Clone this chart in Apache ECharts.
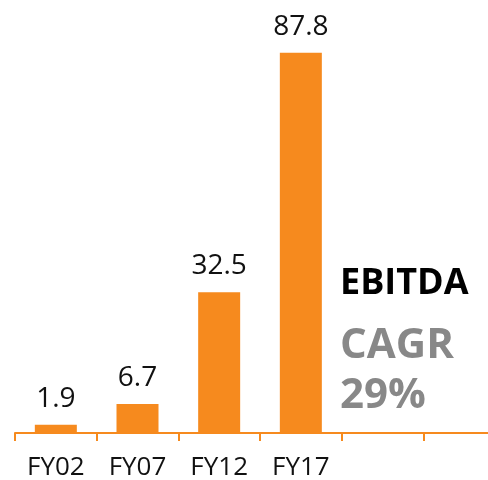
<!DOCTYPE html>
<html>
<head>
<meta charset="utf-8">
<script src="https://cdn.jsdelivr.net/npm/echarts@6/dist/echarts.min.js"></script>
<style>
  html, body { margin: 0; padding: 0; background: #fff; }
  #chart { width: 488px; height: 480px; }
</style>
</head>
<body>
<div id="chart"></div>
<script>
// data
var years = ['FY02', 'FY07', 'FY12', 'FY17', '', ''];
var ebitda = [1.9, 6.7, 32.5, 87.8, null, null];

var orange = '#F68A1E';
var font = 'Open Sans';

var myChart = echarts.init(document.getElementById('chart'));

var option = {
  animation: false,
  grid: { left: 15, right: -17, top: 0, bottom: 47, outerBoundsMode: 'none', containLabel: false },
  xAxis: {
    type: 'category',
    data: years,
    axisLine: { lineStyle: { color: orange, width: 2 } },
    axisTick: { show: true, length: 8, lineStyle: { color: orange, width: 2 } },
    axisLabel: { color: '#111', fontFamily: font, fontSize: 26, margin: 22, interval: 0 }
  },
  yAxis: {
    type: 'value',
    min: 0,
    max: 100,
    show: false,
    splitLine: { show: false }
  },
  series: [{
    type: 'bar',
    data: ebitda,
    barWidth: 42,
    itemStyle: { color: orange },
    label: {
      show: true,
      position: 'top',
      distance: 12,
      color: '#111',
      fontFamily: font,
      fontSize: 28
    }
  }],
  graphic: [
    { type: 'text', left: 340, top: 266,
      style: { text: 'EBITDA', fill: '#000', font: 'bold 36px "Open Sans"' } },
    { type: 'text', left: 340, top: 321,
      style: { text: 'CAGR\n29%', fill: '#888', font: 'bold 42px "Open Sans"', lineHeight: 50 } }
  ]
};

myChart.setOption(option);
</script>
</body>
</html>
